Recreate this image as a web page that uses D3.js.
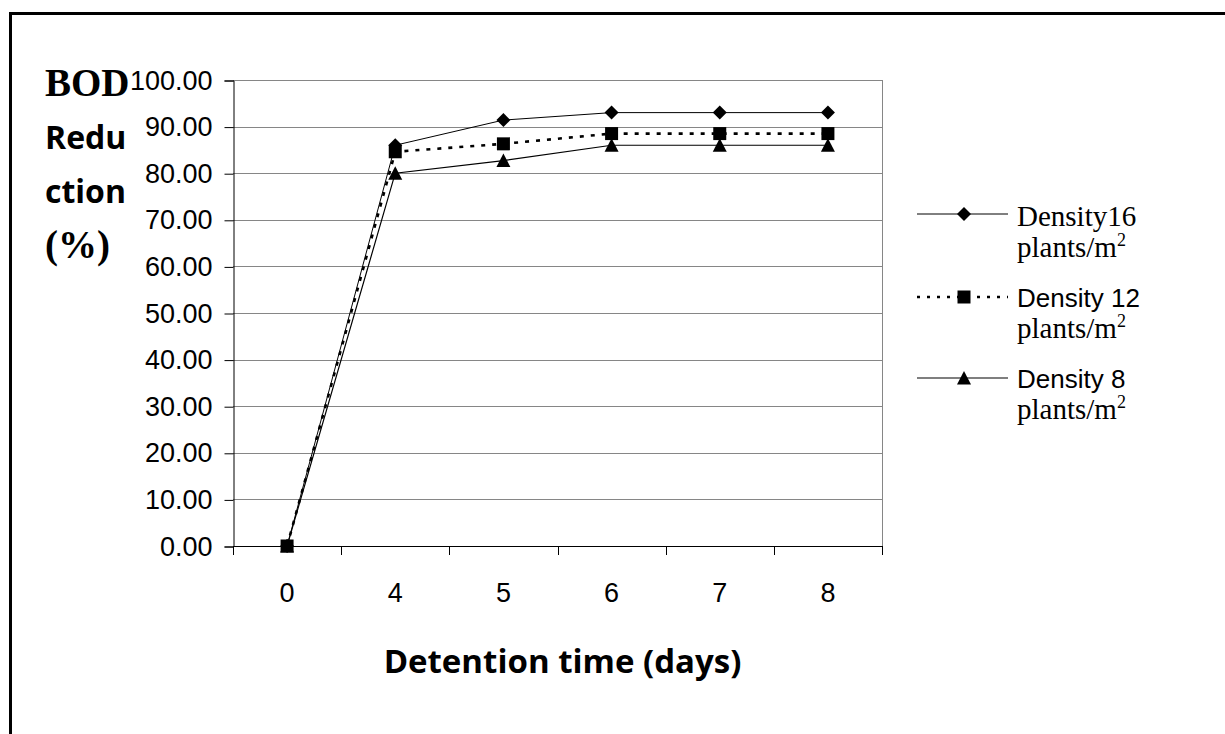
<!DOCTYPE html>
<html>
<head>
<meta charset="utf-8">
<script src="https://cdn.jsdelivr.net/npm/d3@7"></script>
<style>
  html, body { margin: 0; padding: 0; background: #fff; overflow: hidden; }
  svg { display: block; }
</style>
</head>
<body>
<svg id="chart" width="1225" height="734"></svg>
<script>
// Detention time categories (days) and BOD reduction (%) per planting density
const categories = ["0", "4", "5", "6", "7", "8"];
const density16 = [0, 86.0, 91.4, 93.0, 93.0, 93.0];
const density12 = [0, 84.6, 86.3, 88.5, 88.5, 88.5];
const density8  = [0, 80.0, 82.7, 86.0, 86.0, 86.0];
const yTicks = [0, 10, 20, 30, 40, 50, 60, 70, 80, 90, 100];

const seriesNames = ["Density16", "Density 12", "Density 8"];

const svg = d3.select("#chart");

// outer frame (continues past the right and bottom edges)
svg.append("rect")
  .attr("x", 10.5).attr("y", 13.5)
  .attr("width", 1300).attr("height", 900)
  .attr("fill", "none").attr("stroke", "#000").attr("stroke-width", 3);

const plot = { left: 233, right: 882, top: 80, bottom: 546 };

const x = d3.scaleBand().domain(categories).range([plot.left, plot.right]).padding(0);
const y = d3.scaleLinear().domain([0, 100]).range([plot.bottom, plot.top]);
const cx = c => x(c) + x.bandwidth() / 2;

// horizontal gridlines
svg.append("g").selectAll("line")
  .data(yTicks.filter(v => v > 0))
  .join("line")
  .attr("x1", plot.left).attr("x2", plot.right)
  .attr("y1", d => Math.round(y(d)) + 0.5).attr("y2", d => Math.round(y(d)) + 0.5)
  .attr("stroke", "#868686").attr("stroke-width", 1);

// right edge of the plot area
svg.append("line")
  .attr("x1", plot.right + 0.5).attr("x2", plot.right + 0.5)
  .attr("y1", plot.top).attr("y2", plot.bottom)
  .attr("stroke", "#868686").attr("stroke-width", 1);

// y axis
const yAxis = d3.axisLeft(y).tickValues(yTicks).tickFormat(d3.format(".2f"))
  .tickSizeOuter(0).tickSize(9).tickPadding(12);
const gy = svg.append("g").attr("transform", `translate(${plot.left + 0.5},0.5)`).call(yAxis);
gy.select(".domain").attr("stroke", "#000");
gy.selectAll(".tick line").attr("stroke", "#000");
gy.selectAll(".tick text")
  .attr("font-family", "'Liberation Sans', Arial, sans-serif")
  .attr("font-size", 27).attr("fill", "#000");

// x axis: ticks on the category boundaries, labels centred in each band
svg.append("line")
  .attr("x1", plot.left).attr("x2", plot.right + 1)
  .attr("y1", plot.bottom + 0.5).attr("y2", plot.bottom + 0.5)
  .attr("stroke", "#000");
const bounds = categories.map(c => x(c)).concat([plot.right]);
svg.append("g").selectAll("line")
  .data(bounds).join("line")
  .attr("x1", d => Math.round(d) + 0.5).attr("x2", d => Math.round(d) + 0.5)
  .attr("y1", plot.bottom).attr("y2", plot.bottom + 9)
  .attr("stroke", "#000");
svg.append("g").selectAll("text")
  .data(categories).join("text")
  .attr("x", d => cx(d)).attr("y", 602)
  .attr("text-anchor", "middle")
  .attr("font-family", "'Liberation Sans', Arial, sans-serif")
  .attr("font-size", 27).attr("fill", "#000")
  .text(d => d);

// axis titles
const serif = "'Liberation Serif', 'Times New Roman', serif";
const sansBold = "'Open Sans', Calibri, sans-serif";
svg.append("text").attr("x", 45).attr("y", 96)
  .attr("font-family", serif).attr("font-weight", "bold").attr("font-size", 39).text("BOD");
svg.append("text").attr("x", 45).attr("y", 149)
  .attr("font-family", sansBold).attr("font-weight", "bold").attr("font-size", 32).text("Redu");
svg.append("text").attr("x", 45).attr("y", 203)
  .attr("font-family", sansBold).attr("font-weight", "bold").attr("font-size", 32).text("ction");
svg.append("text").attr("x", 45).attr("y", 258)
  .attr("font-family", serif).attr("font-weight", "bold").attr("font-size", 39).text("(%)");
svg.append("text").attr("x", (plot.left + plot.right) / 2 + 5).attr("y", 673)
  .attr("text-anchor", "middle")
  .attr("font-family", sansBold).attr("font-weight", "bold").attr("font-size", 33)
  .text("Detention time (days)");

// marker shapes
const diamond = (px, py) => `M${px},${py - 7}L${px + 7},${py}L${px},${py + 7}L${px - 7},${py}Z`;
const square = (px, py) => `M${px - 6.5},${py - 6.5}h13v13h-13Z`;
const triangle = (px, py) => `M${px},${py - 7}L${px + 7},${py + 6.5}L${px - 7},${py + 6.5}Z`;

const series = [
  { name: seriesNames[0], values: density16, dash: null, width: 1, marker: diamond },
  { name: seriesNames[1], values: density12, dash: "4 7", width: 2.6, marker: square },
  { name: seriesNames[2], values: density8, dash: null, width: 1.2, marker: triangle }
];

const line = d3.line().x((d, i) => cx(categories[i])).y(d => y(d));

series.forEach(s => {
  svg.append("path")
    .attr("d", line(s.values))
    .attr("fill", "none").attr("stroke", "#000")
    .attr("stroke-width", s.width)
    .attr("stroke-dasharray", s.dash);
});
series.forEach(s => {
  svg.append("g").selectAll("path")
    .data(s.values).join("path")
    .attr("d", (d, i) => s.marker(cx(categories[i]), y(d)))
    .attr("fill", "#000");
});

// legend
const legend = [
  { s: series[0], lineY: 214, font: serif, size: 29, baseline: 226, dash: null, w: 1 },
  { s: series[1], lineY: 297, font: "'Liberation Sans', Arial, sans-serif", size: 26, baseline: 307, dash: "3 7", w: 2.6 },
  { s: series[2], lineY: 378, font: "'Liberation Sans', Arial, sans-serif", size: 26, baseline: 388, dash: null, w: 1.2 }
];
legend.forEach(l => {
  svg.append("line")
    .attr("x1", 917).attr("x2", 1008)
    .attr("y1", l.lineY).attr("y2", l.lineY)
    .attr("stroke", "#000").attr("stroke-width", l.w)
    .attr("stroke-dasharray", l.dash);
  svg.append("path").attr("d", l.s.marker(964, l.lineY)).attr("fill", "#000");
  svg.append("text").attr("x", 1017).attr("y", l.baseline)
    .attr("font-family", l.font).attr("font-size", l.size).text(l.s.name);
  const t = svg.append("text").attr("x", 1017).attr("y", l.baseline + 31)
    .attr("font-family", serif).attr("font-size", 29);
  t.append("tspan").text("plants/m");
  t.append("tspan").attr("font-size", 18).attr("dy", -11).text("2");
});
</script>
</body>
</html>
